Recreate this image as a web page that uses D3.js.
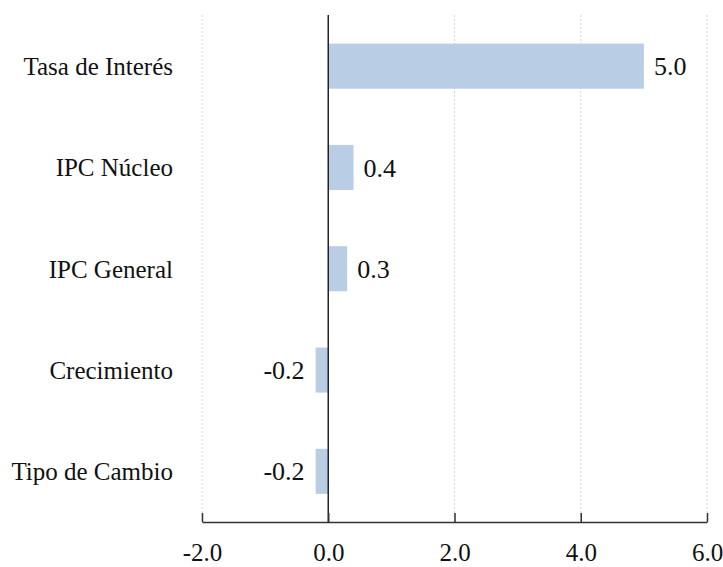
<!DOCTYPE html>
<html>
<head>
<meta charset="utf-8">
<script src="https://cdn.jsdelivr.net/npm/d3@7"></script>
<style>
  html, body { margin: 0; padding: 0; background: #fff; }
  svg { display: block; }
</style>
</head>
<body>
<svg id="chart" width="723" height="567"></svg>
<script>
// Categories (top to bottom) and their values
const categories = ["Tasa de Interés", "IPC Núcleo", "IPC General", "Crecimiento", "Tipo de Cambio"];
const values = [5.0, 0.4, 0.3, -0.2, -0.2];
const tickValues = [-2, 0, 2, 4, 6];

const svg = d3.select("#chart");
const fontFamily = "'Liberation Serif', 'Times New Roman', serif";
// One decimal, plain hyphen for negatives
const fmt = v => d3.format(".1f")(v).replace("\u2212", "-");

const x = d3.scaleLinear().domain([-2, 6]).range([202, 707]);
const y = d3.scaleBand().domain(categories).range([15.5, 522]).paddingInner(0.555).paddingOuter(0.2775);

const plotTop = 15, axisY = 522;

// Dotted vertical gridlines
svg.append("g")
  .selectAll("line")
  .data(tickValues.filter(d => d !== 0))
  .join("line")
  .attr("x1", d => x(d)).attr("x2", d => x(d))
  .attr("y1", plotTop).attr("y2", axisY)
  .attr("stroke", "#d4d4d4")
  .attr("stroke-width", 1)
  .attr("stroke-dasharray", "2,2");

// Bars
svg.append("g")
  .selectAll("rect")
  .data(categories)
  .join("rect")
  .attr("x", (d, i) => Math.min(x(0), x(values[i])))
  .attr("width", (d, i) => Math.abs(x(values[i]) - x(0)))
  .attr("y", d => y(d))
  .attr("height", y.bandwidth())
  .attr("fill", "#b9cde5");

// Zero line
svg.append("line")
  .attr("x1", x(0)).attr("x2", x(0))
  .attr("y1", plotTop).attr("y2", axisY)
  .attr("stroke", "#222")
  .attr("stroke-width", 1.5);

// Bottom axis with ticks pointing up
const axis = d3.axisBottom(x)
  .tickValues(tickValues)
  .tickSize(-9)
  .tickSizeOuter(0)
  .tickFormat(fmt);

const gx = svg.append("g")
  .attr("transform", `translate(0,${axisY})`)
  .call(axis);
gx.select(".domain").attr("stroke", "#333").attr("stroke-width", 1.5);
gx.selectAll(".tick line").attr("stroke", "#333").attr("stroke-width", 1.5);
gx.selectAll(".tick text")
  .attr("font-family", fontFamily)
  .attr("font-size", 25)
  .attr("fill", "#111")
  .attr("dy", null)
  .attr("y", 39);

// Category labels
svg.append("g")
  .selectAll("text")
  .data(categories)
  .join("text")
  .attr("x", 173)
  .attr("y", d => y(d) + y.bandwidth() / 2)
  .attr("dy", "0.35em")
  .attr("text-anchor", "end")
  .attr("font-family", fontFamily)
  .attr("font-size", 25)
  .attr("fill", "#111")
  .text(d => d);

// Value labels
svg.append("g")
  .selectAll("text")
  .data(categories)
  .join("text")
  .attr("x", (d, i) => values[i] >= 0 ? x(values[i]) + 10 : x(values[i]) - 11)
  .attr("y", d => y(d) + y.bandwidth() / 2)
  .attr("dy", "0.35em")
  .attr("text-anchor", (d, i) => values[i] >= 0 ? "start" : "end")
  .attr("font-family", fontFamily)
  .attr("font-size", 26)
  .attr("fill", "#111")
  .text((d, i) => fmt(values[i]));
</script>
</body>
</html>
